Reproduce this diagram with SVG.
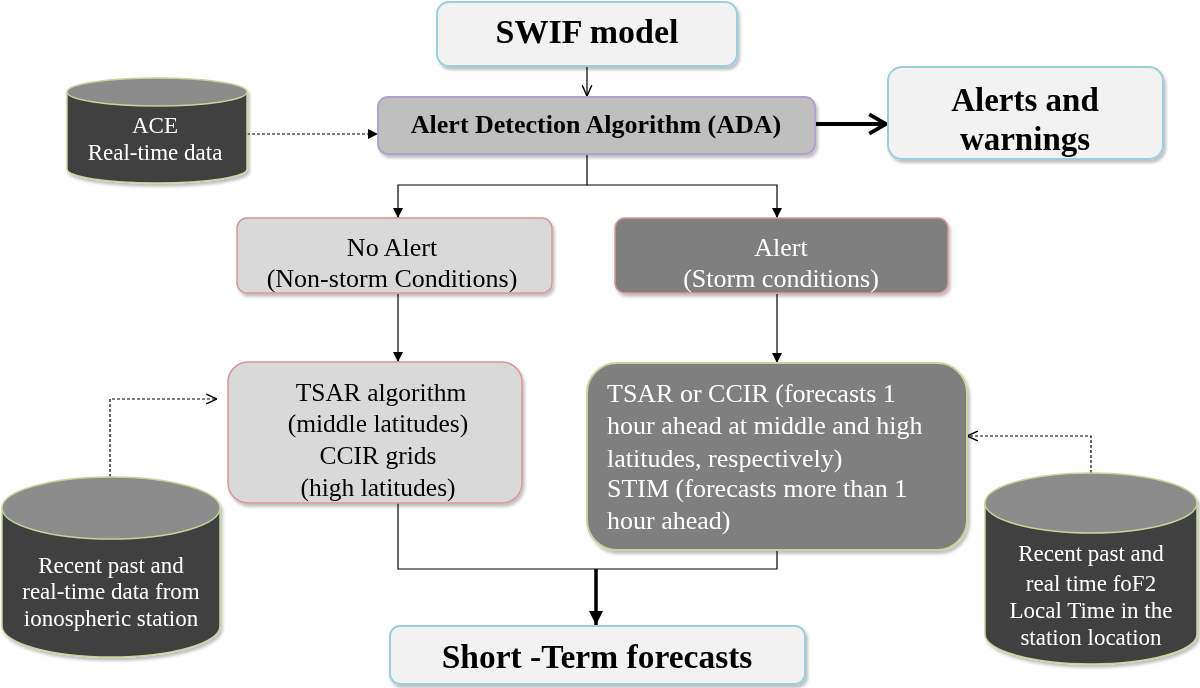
<svg xmlns="http://www.w3.org/2000/svg" width="1200" height="688" viewBox="0 0 1200 688">
<defs>
<filter id="sh" x="-10%" y="-10%" width="125%" height="130%">
<feDropShadow dx="2" dy="3" stdDeviation="1.5" flood-color="#000" flood-opacity="0.25"/>
</filter>
<marker id="tri" viewBox="0 0 10 10" refX="10" refY="5" markerWidth="10" markerHeight="10" markerUnits="userSpaceOnUse" orient="auto">
<path d="M0,0 L10,5 L0,10 Z" fill="#000"/>
</marker>
<marker id="open" viewBox="0 0 10 10" refX="10" refY="5" markerWidth="12" markerHeight="12" markerUnits="userSpaceOnUse" orient="auto">
<path d="M1,1 L10,5 L1,9" fill="none" stroke="#000" stroke-width="1.2"/>
</marker>
<marker id="thickopen" viewBox="0 0 10 10" refX="9" refY="5" markerWidth="6" markerHeight="6" orient="auto">
<path d="M2,1 L9,5 L2,9" fill="none" stroke="#000" stroke-width="1.6"/>
</marker>
<marker id="bigtri" viewBox="0 0 10 10" refX="10" refY="5" markerWidth="14" markerHeight="14" markerUnits="userSpaceOnUse" orient="auto">
<path d="M0,0 L10,5 L0,10 Z" fill="#000"/>
</marker>
</defs>
<style>
text{font-family:"Liberation Serif","Times New Roman",serif;}
.b{font-weight:bold;fill:#000;text-anchor:middle;}
.w{fill:#fff;font-size:23px;text-anchor:middle;}
.k{fill:#000;font-size:26px;text-anchor:middle;}
.t{fill:#000;font-size:25.5px;text-anchor:middle;}
.wl{fill:#fff;font-size:26px;}
.blue{fill:#f2f2f2;stroke:#9ccfdc;stroke-width:2;}
.pink{stroke:#d99694;stroke-width:1.5;}
.body{fill:#404040;stroke:#c3d69b;stroke-width:1.5;}
.lid{fill:#8c8c8c;stroke:#c3d69b;stroke-width:1.5;}
.ln{fill:none;stroke:#000;stroke-width:1.2;}
.dot{fill:none;stroke:#000;stroke-width:1.2;stroke-dasharray:3,2;}
</style>

<g id="connectors">
<line class="ln" x1="587" y1="67" x2="587" y2="96" marker-end="url(#open)"/>
<line x1="815" y1="124" x2="886" y2="124" stroke="#000" stroke-width="4" marker-end="url(#thickopen)"/>
<line class="dot" x1="247" y1="134" x2="378" y2="134" marker-end="url(#tri)"/>
<polyline class="ln" points="587,155 587,185 398,185 398,218" marker-end="url(#tri)"/>
<polyline class="ln" points="587,185 777,185 777,218" marker-end="url(#tri)"/>
<line class="ln" x1="398" y1="294" x2="398" y2="362" marker-end="url(#tri)"/>
<line class="ln" x1="777" y1="294" x2="777" y2="363" marker-end="url(#tri)"/>
<polyline class="dot" points="110,477 110,399 217,399" marker-end="url(#open)"/>
<polyline class="dot" points="1091,473 1091,436 967,436" marker-end="url(#open)"/>
<polyline class="ln" points="398,503 398,569 777,569 777,550"/>
<line x1="596" y1="569" x2="596" y2="625" stroke="#000" stroke-width="3.5" marker-end="url(#bigtri)"/>
</g>

<g id="swif" filter="url(#sh)">
<rect class="blue" x="437" y="2" width="300" height="64" rx="12"/>
<text class="b" x="587" y="43" font-size="34">SWIF model</text>
</g>

<g id="ada" filter="url(#sh)">
<rect x="378" y="97" width="437" height="57" rx="10" fill="#bfbfbf" stroke="#b3a2c7" stroke-width="2"/>
<text class="b" x="596" y="133" font-size="26">Alert Detection Algorithm (ADA)</text>
</g>

<g id="alerts" filter="url(#sh)">
<rect class="blue" x="888" y="67" width="275" height="92" rx="14"/>
<text class="b" x="1025" y="111" font-size="33">Alerts and</text>
<text class="b" x="1025" y="150" font-size="33">warnings</text>
</g>

<g id="ace" filter="url(#sh)">
<path class="body" d="M67,92 L67,169 A90,14 0 0 0 247,169 L247,92 Z"/>
<ellipse class="lid" cx="157" cy="92" rx="90" ry="14"/>
<text class="w" x="155" y="133" font-size="23.5">ACE</text>
<text class="w" x="155" y="160" font-size="23.5">Real-time data</text>
</g>

<g id="noalert" filter="url(#sh)">
<rect class="pink" x="237" y="218" width="315" height="75" rx="10" fill="#d9d9d9"/>
<text class="k" x="392" y="256">No Alert</text>
<text class="k" x="392" y="287">(Non-storm Conditions)</text>
</g>

<g id="alert" filter="url(#sh)">
<rect class="pink" x="615" y="218" width="333" height="75" rx="10" fill="#7f7f7f"/>
<text class="wl" x="781" y="256" text-anchor="middle">Alert</text>
<text class="wl" x="781" y="287" text-anchor="middle">(Storm conditions)</text>
</g>

<g id="tsar" filter="url(#sh)">
<rect class="pink" x="228" y="362" width="294" height="141" rx="20" fill="#d9d9d9"/>
<text class="t" x="381" y="401">TSAR algorithm</text>
<text class="t" x="378" y="432">(middle latitudes)</text>
<text class="t" x="378" y="464">CCIR grids</text>
<text class="t" x="378" y="496">(high latitudes)</text>
</g>

<g id="storm" filter="url(#sh)">
<rect x="587" y="363" width="380" height="187" rx="30" fill="#7f7f7f" stroke="#c3d69b" stroke-width="2"/>
<text class="wl" x="607" y="402">TSAR or CCIR (forecasts  1</text>
<text class="wl" x="607" y="434">hour ahead  at middle and high</text>
<text class="wl" x="607" y="467">latitudes, respectively)</text>
<text class="wl" x="607" y="497">STIM (forecasts  more than 1</text>
<text class="wl" x="607" y="529">hour ahead)</text>
</g>

<g id="ionodata" filter="url(#sh)">
<path class="body" d="M2,508 L2,626 A109,31 0 0 0 220,626 L220,508 Z"/>
<ellipse class="lid" cx="111" cy="508" rx="109" ry="31"/>
<text class="w" x="111" y="573">Recent past and</text>
<text class="w" x="111" y="599">real-time data from</text>
<text class="w" x="111" y="626">ionospheric station</text>
</g>

<g id="fof2data" filter="url(#sh)">
<path class="body" d="M985,503 L985,634 A106,30 0 0 0 1197,634 L1197,503 Z"/>
<ellipse class="lid" cx="1091" cy="503" rx="106" ry="30"/>
<text class="w" x="1091" y="561">Recent past and</text>
<text class="w" x="1091" y="591">real time foF2</text>
<text class="w" x="1091" y="618">Local Time in the</text>
<text class="w" x="1091" y="645">station location</text>
</g>

<g id="shortterm" filter="url(#sh)">
<rect class="blue" x="390" y="626" width="415" height="58" rx="10"/>
<text class="b" x="597" y="668" font-size="33.5">Short -Term forecasts</text>
</g>
</svg>
